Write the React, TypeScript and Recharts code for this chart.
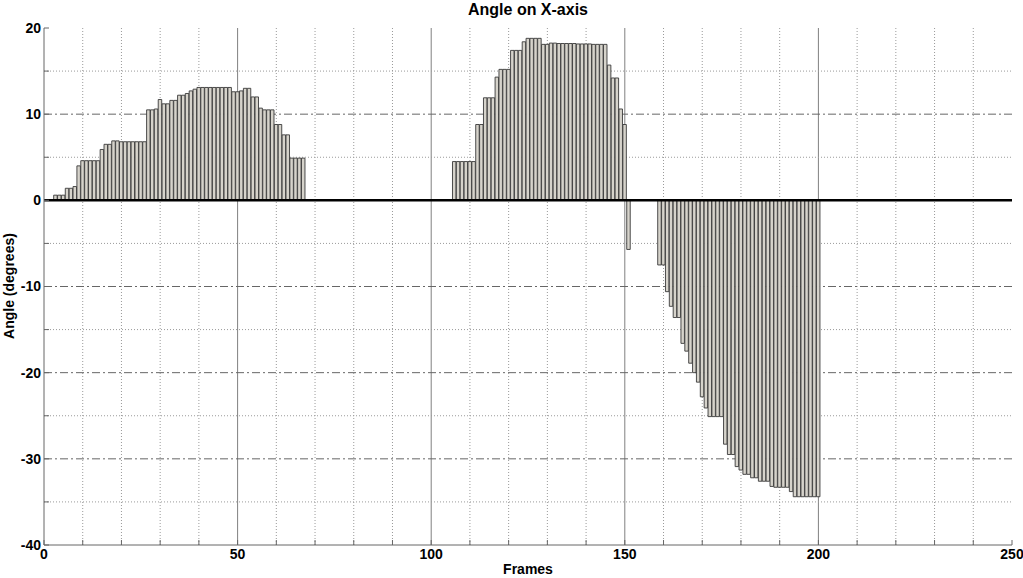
import { BarChart, Bar, XAxis, YAxis, ReferenceLine, CartesianGrid } from "recharts";

// Angle per frame in three runs of consecutive frames.
const RUN_A_START = 3;
const RUN_A = [
  0.6, 0.6, 0.6, 1.4, 1.4, 1.6, 4.0, 4.6, 4.6, 4.6, 4.6, 4.6, 5.9, 6.5, 6.5,
  6.9, 6.9, 6.8, 6.8, 6.8, 6.8, 6.8, 6.8, 6.8, 10.5, 10.5, 10.6, 11.7, 11.2,
  11.2, 11.6, 11.6, 12.2, 12.2, 12.4, 12.7, 12.9, 13.1, 13.1, 13.1, 13.1, 13.1,
  13.1, 13.1, 13.1, 13.1, 12.6, 12.6, 12.7, 13.0, 13.0, 12.0, 12.0, 10.7, 10.5,
  10.5, 10.5, 8.8, 8.8, 7.6, 7.6, 4.9, 4.9, 4.9, 4.9,
];
const RUN_B_START = 106;
const RUN_B = [
  4.5, 4.5, 4.5, 4.5, 4.5, 4.5, 8.8, 8.8, 11.9, 11.9, 11.9, 14.3, 15.2, 15.2,
  15.2, 17.4, 17.4, 17.4, 18.4, 18.8, 18.8, 18.8, 18.8, 18.1, 18.1, 18.25,
  18.25, 18.2, 18.2, 18.2, 18.2, 18.2, 18.15, 18.15, 18.15, 18.15, 18.1, 18.1,
  18.1, 18.1, 15.7, 14.2, 14.2, 10.6, 8.8, -5.7,
];
const RUN_C_START = 159;
const RUN_C = [
  -7.5, -7.5, -10.6, -12.3, -13.6, -13.6, -16.6, -17.5, -18.9, -20.0, -21.1,
  -22.8, -24.1, -25.1, -25.1, -25.1, -25.1, -28.3, -29.5, -29.5, -30.9, -31.3,
  -31.8, -31.8, -32.2, -32.2, -32.6, -32.6, -32.6, -33.2, -33.3, -33.3, -33.3,
  -33.3, -33.8, -34.4, -34.4, -34.4, -34.4, -34.4, -34.4, -34.4,
];

const X_TICKS = [0, 10, 20, 30, 40, 50, 60, 70, 80, 90, 100, 110, 120, 130, 140, 150, 160, 170, 180, 190, 200, 210, 220, 230, 240, 250];
const X_LABELED = [0, 50, 100, 150, 200, 250];
const Y_TICKS = [-40, -35, -30, -25, -20, -15, -10, -5, 0, 5, 10, 15, 20];
const Y_LABELED = [-40, -30, -20, -10, 0, 10, 20];

// grid: dotted minor lines, solid majors on x, dash-dot majors on y
const X_DOTTED = [10, 20, 30, 40, 60, 70, 80, 90, 110, 120, 130, 140, 160, 170, 180, 190, 210, 220, 230, 240];
const X_SOLID = [50, 100, 150, 200];
const Y_DOTTED = [15, 5, -5, -15, -25, -35];
const Y_DASHDOT = [10, -10, -20, -30];

const FONT = '"Liberation Sans", Arial, Helvetica, sans-serif';
const FRAME = "#666666";
const BAR_FILL = "#d6d3cb";
const BAR_EDGE = "#3a3a3a";

type Row = { frame: number; angle: number };

function runRows(start: number, values: number[]): Row[] {
  return values.map((angle, i) => ({ frame: start + i, angle }));
}

const rows: Row[] = [
  ...runRows(RUN_A_START, RUN_A),
  ...runRows(RUN_B_START, RUN_B),
  ...runRows(RUN_C_START, RUN_C),
];

const tickStyle = { fill: "#000", fontSize: 14, fontWeight: 700, fontFamily: FONT };

export default function App() {
  return (
    <div style={{ position: "relative", width: 1023, height: 578, background: "#fff", fontFamily: FONT }}>
      <style>{`body{margin:0}`}</style>
      <div
        style={{
          position: "absolute",
          left: 44,
          width: 968,
          top: 1,
          textAlign: "center",
          fontSize: 16,
          fontWeight: 700,
          lineHeight: "18px",
        }}
      >
        Angle on X-axis
      </div>
      <div
        style={{
          position: "absolute",
          left: 44,
          width: 968,
          top: 561,
          textAlign: "center",
          fontSize: 14,
          fontWeight: 700,
          lineHeight: "16px",
        }}
      >
        Frames
      </div>
      <div
        style={{
          position: "absolute",
          left: 9,
          top: 286,
          transform: "translate(-50%, -50%) rotate(-90deg)",
          whiteSpace: "nowrap",
          fontSize: 14,
          fontWeight: 700,
          lineHeight: "16px",
        }}
      >
        Angle (degrees)
      </div>
      <BarChart
        width={1023}
        height={578}
        data={rows}
        margin={{ top: 28, right: 11, bottom: 0, left: 0 }}
        barCategoryGap={0}
        barGap={0}
      >
        <CartesianGrid horizontal={false} verticalValues={X_DOTTED} stroke="#9a9a9a" strokeDasharray="1 2" />
        <CartesianGrid horizontal={false} verticalValues={X_SOLID} stroke="#808080" />
        <CartesianGrid vertical={false} horizontalValues={Y_DOTTED} stroke="#9a9a9a" strokeDasharray="1 2" />
        <CartesianGrid vertical={false} horizontalValues={Y_DASHDOT} stroke="#666666" strokeDasharray="8 3 2 3" />
        <XAxis
          dataKey="frame"
          type="number"
          domain={[0, 250]}
          ticks={X_TICKS}
          interval={0}
          height={33}
          tickSize={-5}
          tickMargin={9}
          tickFormatter={(v: number) => (X_LABELED.includes(v) ? String(v) : "")}
          tick={tickStyle}
          axisLine={{ stroke: FRAME }}
          tickLine={{ stroke: FRAME }}
        />
        <XAxis
          xAxisId="top"
          orientation="top"
          type="number"
          domain={[0, 250]}
          ticks={X_TICKS}
          interval={0}
          height={0}
          tickSize={-5}
          tickFormatter={() => ""}
          axisLine={{ stroke: FRAME }}
          tickLine={{ stroke: FRAME }}
        />
        <YAxis
          type="number"
          domain={[-40, 20]}
          ticks={Y_TICKS}
          interval={0}
          width={44}
          tickSize={-5}
          tickMargin={8}
          tickFormatter={(v: number) => (Y_LABELED.includes(v) ? String(v) : "")}
          tick={tickStyle}
          axisLine={{ stroke: FRAME }}
          tickLine={{ stroke: FRAME }}
        />
        <YAxis
          yAxisId="right"
          orientation="right"
          type="number"
          domain={[-40, 20]}
          ticks={Y_TICKS}
          interval={0}
          width={0}
          tickSize={-5}
          tickFormatter={() => ""}
          axisLine={{ stroke: FRAME }}
          tickLine={{ stroke: FRAME }}
        />
        <Bar
          dataKey="angle"
          barSize={3.872}
          fill={BAR_FILL}
          stroke={BAR_EDGE}
          strokeWidth={0.9}
          isAnimationActive={false}
        />
        <ReferenceLine y={0} stroke="#000" strokeWidth={2.5} />
      </BarChart>
    </div>
  );
}
